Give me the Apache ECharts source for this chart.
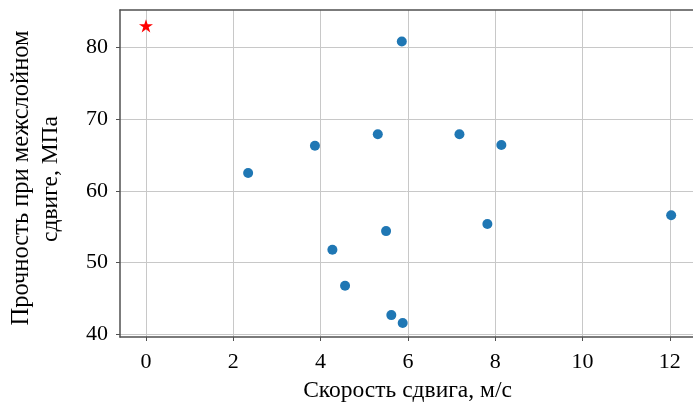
<!DOCTYPE html>
<html>
<head>
<meta charset="utf-8">
<script src="https://cdn.jsdelivr.net/npm/echarts@6/dist/echarts.min.js"></script>
<style>html,body{margin:0;padding:0;background:#fff;}#c{width:693px;height:403px;}</style>
</head>
<body>
<div id="c"></div>
<script>
const speedX = [5.86, 5.31, 7.18, 3.87, 8.14, 2.34, 12.03, 7.82, 5.50, 4.27, 4.56, 5.62, 5.88];
const strengthY = [80.8, 67.9, 67.9, 66.3, 66.4, 62.5, 56.6, 55.4, 54.4, 51.8, 46.8, 42.7, 41.6];
const starPoint = [0, 83.0];
const xTicks = [0, 2, 4, 6, 8, 10, 12];
const yTicks = [40, 50, 60, 70, 80];
const xTitle = 'Скорость сдвига, м/с';
const yTitleLine1 = 'Прочность при межслойном';
const yTitleLine2 = 'сдвиге, МПа';

const font = 'Liberation Serif';
const spine = '#505050';
const gridC = '#c8c8c8';
const starPath = 'path://M100,0 L122.45,69.1 L195.1,69.1 L136.3,111.8 L158.8,180.9 L100,138.2 L41.2,180.9 L63.7,111.8 L4.9,69.1 L77.55,69.1 Z';

const chart = echarts.init(document.getElementById('c'), null, {renderer: 'canvas'});
chart.setOption({
  animation: false,
  grid: {left: 120, top: 10, right: 0, bottom: 66, containLabel: false, outerBoundsMode: 'none'},
  xAxis: [{
    type: 'value', min: -0.595, max: 12.53, position: 'bottom',
    axisLine: {show: true, onZero: false, lineStyle: {color: spine, width: 1.5}},
    axisTick: {show: true, length: 4, inside: false, customValues: xTicks, lineStyle: {color: spine, width: 1}},
    axisLabel: {customValues: xTicks, margin: 14, fontFamily: font, fontSize: 22, color: '#000'},
    splitLine: {show: true, lineStyle: {color: gridC, width: 1}}
  }, {
    type: 'value', min: -0.595, max: 12.53, position: 'top',
    axisLine: {show: true, onZero: false, lineStyle: {color: spine, width: 1.5}},
    axisTick: {show: false}, axisLabel: {show: false}, splitLine: {show: false}
  }],
  yAxis: {
    type: 'value', min: 39.65, max: 85.2,
    axisLine: {show: true, onZero: false, lineStyle: {color: spine, width: 1.5}},
    axisTick: {show: true, length: 4, customValues: yTicks, lineStyle: {color: spine, width: 1}},
    axisLabel: {customValues: yTicks, margin: 12, fontFamily: font, fontSize: 22, color: '#000'},
    splitLine: {show: true, lineStyle: {color: gridC, width: 1}}
  },
  graphic: [
    {type: 'text', x: 407.5, y: 391, style: {text: xTitle, font: '23.5px "Liberation Serif"', fill: '#000', align: 'center', verticalAlign: 'middle'}},
    {type: 'text', x: 22, y: 178, rotation: Math.PI / 2, style: {text: yTitleLine1, font: '24.5px "Liberation Serif"', fill: '#000', align: 'center', verticalAlign: 'middle'}},
    {type: 'text', x: 51, y: 179, rotation: Math.PI / 2, style: {text: yTitleLine2, font: '23.5px "Liberation Serif"', fill: '#000', align: 'center', verticalAlign: 'middle'}}
  ],
  series: [{
    type: 'scatter', xAxisIndex: 0,
    data: speedX.map((x, i) => [x, strengthY[i]]),
    symbol: 'circle', symbolSize: 10,
    itemStyle: {color: '#1f77b4', opacity: 1}
  }, {
    type: 'scatter', xAxisIndex: 0,
    data: [starPoint],
    symbol: starPath, symbolSize: 14, symbolKeepAspect: true,
    itemStyle: {color: '#ff0000', opacity: 1}
  }]
});
</script>
</body>
</html>
